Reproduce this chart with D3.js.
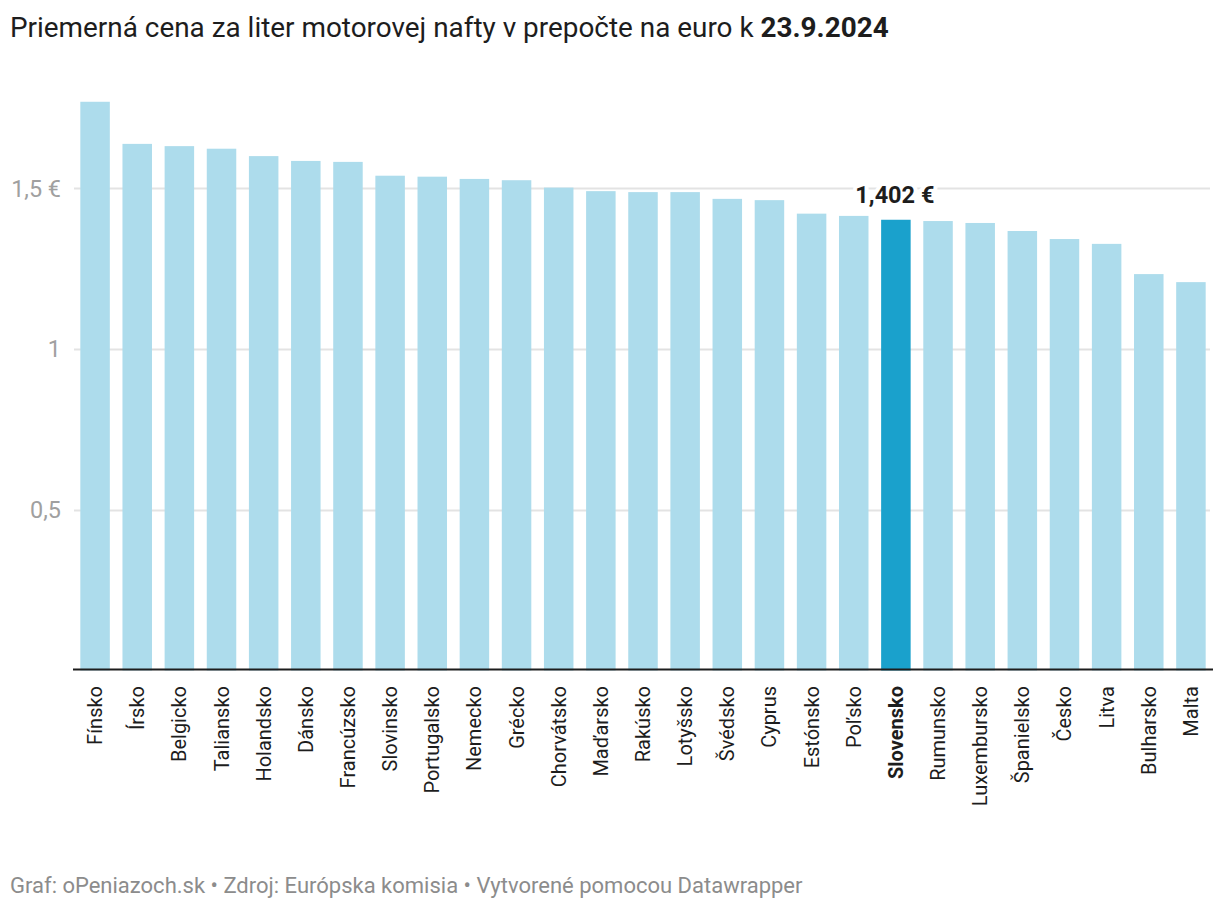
<!DOCTYPE html>
<html>
<head>
<meta charset="utf-8">
<script src="https://cdn.jsdelivr.net/npm/d3@7/dist/d3.min.js"></script>
<style>
  html, body { margin: 0; padding: 0; background: #fff; }
  svg { display: block; font-family: Roboto, "Noto Sans", sans-serif; }
</style>
</head>
<body>
<svg id="chart" width="1220" height="912"></svg>
<script>
const categories = ["Fínsko","Írsko","Belgicko","Taliansko","Holandsko","Dánsko","Francúzsko","Slovinsko","Portugalsko","Nemecko","Grécko","Chorvátsko","Maďarsko","Rakúsko","Lotyšsko","Švédsko","Cyprus","Estónsko","Poľsko","Slovensko","Rumunsko","Luxembursko","Španielsko","Česko","Litva","Bulharsko","Malta"];
const prices = [1.769,1.638,1.631,1.623,1.600,1.585,1.582,1.539,1.536,1.529,1.525,1.502,1.491,1.488,1.488,1.467,1.463,1.421,1.414,1.402,1.398,1.392,1.367,1.342,1.327,1.233,1.208];
const yTicks = [0.5, 1, 1.5];
const yTickLabels = ["0,5", "1", "1,5 €"];
const highlight = "Slovensko";
const highlightLabel = "1,402 €";
const titleText = "Priemerná cena za liter motorovej nafty v prepočte na euro k ";
const titleBold = "23.9.2024";
const footerText = "Graf: oPeniazoch.sk • Zdroj: Európska komisia • Vytvorené pomocou Datawrapper";

(function () {
const svg = d3.select("#chart");
const mLeft = 74, mRight = 1212, mBottom = 670.5;

const x = d3.scaleBand().domain(categories).range([mLeft, mRight]).paddingInner(0.3).paddingOuter(0.15);
const y = d3.scaleLinear().domain([0, 1.5]).range([mBottom, mBottom - 1.5 * 321.5]);

// title
const t = svg.append("text").attr("x", 10).attr("y", 37).attr("font-size", 27.9).attr("fill", "#1d1d1d");
t.append("tspan").text(titleText);
t.append("tspan").attr("font-weight", "bold").text(titleBold);

// gridlines
svg.append("g").selectAll("line").data(yTicks).join("line")
  .attr("x1", mLeft).attr("x2", mRight - 2)
  .attr("y1", d => Math.round(y(d)) + 0.5).attr("y2", d => Math.round(y(d)) + 0.5)
  .attr("stroke", "#e3e3e3").attr("stroke-width", 2);

// y labels
svg.append("g").selectAll("text").data(yTicks).join("text")
  .attr("x", 61).attr("y", d => y(d)).attr("dy", "0.36em")
  .attr("text-anchor", "end").attr("font-size", 23.4).attr("fill", "#a0a0a0")
  .text((d, i) => yTickLabels[i]);

// bars
svg.append("g").selectAll("rect").data(categories).join("rect")
  .attr("x", d => x(d)).attr("width", x.bandwidth())
  .attr("y", (d, i) => y(prices[i])).attr("height", (d, i) => y(0) - y(prices[i]))
  .attr("fill", d => d === highlight ? "#1aa1cc" : "#addcec");

// baseline
svg.append("line").attr("x1", mLeft - 1).attr("x2", mRight + 1)
  .attr("y1", mBottom - 1).attr("y2", mBottom - 1)
  .attr("stroke", "#1d1d1d").attr("stroke-width", 2);

// value label
const hi = categories.indexOf(highlight);
const lx = x(highlight) + x.bandwidth() / 2 - 1;
const ly = y(prices[hi]) - 17;
svg.append("text").attr("x", lx).attr("y", ly)
  .attr("text-anchor", "middle").attr("font-size", 23.5).attr("font-weight", "bold")
  .attr("fill", "#1d1d1d").attr("stroke", "#fff").attr("stroke-width", 8)
  .attr("paint-order", "stroke").attr("stroke-linejoin", "round")
  .text(highlightLabel);

// x labels
svg.append("g").selectAll("text").data(categories).join("text")
  .attr("transform", d => `translate(${x(d) + x.bandwidth() / 2},686) rotate(-90)`)
  .attr("dy", "0.35em")
  .attr("text-anchor", "end").attr("font-size", 20)
  .attr("font-weight", d => d === highlight ? "bold" : "normal")
  .attr("fill", "#1d1d1d")
  .text(d => d);

// footer
svg.append("text").attr("x", 10).attr("y", 893).attr("font-size", 22).attr("fill", "#8c8c8c").text(footerText);
})();
</script>
</body>
</html>
